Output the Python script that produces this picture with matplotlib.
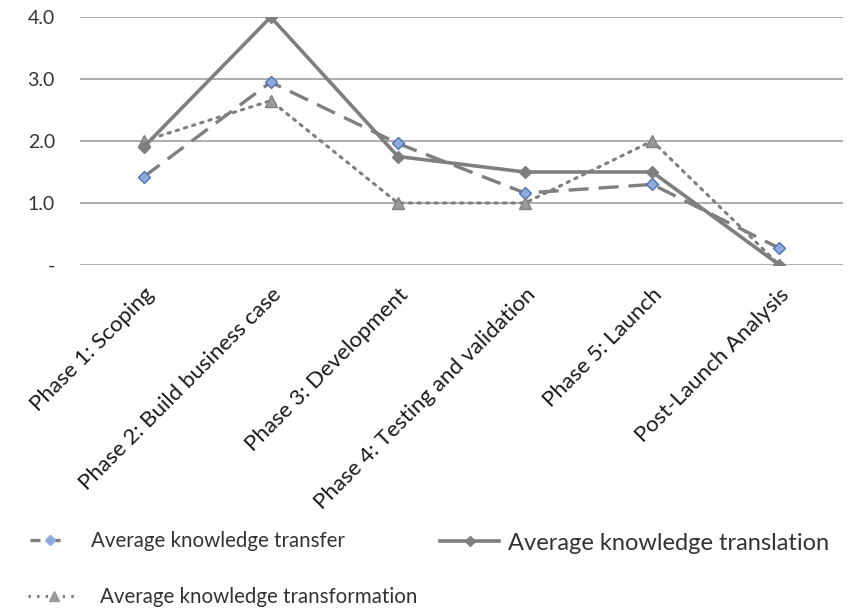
import matplotlib
matplotlib.use("Agg")
import matplotlib.pyplot as plt
from matplotlib.lines import Line2D

categories = ["Phase 1: Scoping", "Phase 2: Build business case", "Phase 3: Development",
              "Phase 4: Testing and validation", "Phase 5: Launch", "Post-Launch Analysis"]
transfer = [1.42, 2.95, 1.96, 1.16, 1.30, 0.27]
translation = [1.90, 4.00, 1.75, 1.50, 1.50, 0.00]
transformation = [2.00, 2.65, 1.00, 1.00, 2.00, 0.00]
yticks = [0, 1, 2, 3, 4]
yticklabels = ["-", "1.0", "2.0", "3.0", "4.0"]

plt.rcParams['font.family'] = ['Lato', 'DejaVu Sans']

fig = plt.figure(figsize=(8.5, 6.14), dpi=100)
ax = fig.add_axes([80/850, 1-265/614, (843-80)/850, (265-17)/614])

line_c = "#7f7f7f"
x = list(range(len(categories)))

ax.plot(x, transfer, color=line_c, lw=2.4, dashes=(6, 3), zorder=3,
        marker='D', ms=6, mfc="#8faadc", mec="#4f72b0", mew=1.0)
ax.plot(x, transformation, color=line_c, lw=2.2, linestyle=(0, (0.8, 2.0)), dash_capstyle='round', zorder=3,
        marker='^', ms=8.5, mfc="#9a9a9a", mec="#7f7f7f", mew=1.0)
ax.plot(x, translation, color=line_c, lw=2.6, zorder=4,
        marker='D', ms=6, mfc="#7f7f7f", mec="#7f7f7f")

ax.set_xlim(-0.5, len(categories) - 0.5)
ax.set_ylim(0, 4)
ax.set_yticks(yticks)
ax.set_yticklabels(yticklabels, fontsize=14, color="#333333")
ax.yaxis.grid(True, color="#a6a6a6", lw=1.3)
ax.set_axisbelow(True)
for s in ax.spines.values():
    s.set_visible(False)
ax.tick_params(axis='both', length=0)
ax.tick_params(axis='y', pad=18)
ax.set_xticks(x)
ax.set_xticklabels(categories, rotation=45, ha='right', rotation_mode='anchor',
                   fontsize=16, color="#1a1a1a")
ax.tick_params(axis='x', pad=14)

def entry(label, handle_kw, size, anchor, hl, pad):
    h = Line2D([], [], **handle_kw)
    leg = fig.legend([h], [label], loc='center left', bbox_to_anchor=anchor,
                     bbox_transform=fig.transFigure, frameon=False, fontsize=size,
                     handlelength=hl, handletextpad=pad, borderpad=0, borderaxespad=0)
    for t in leg.get_texts():
        t.set_color("#333333")
    return leg

entry("Average knowledge transfer",
      dict(color=line_c, lw=2.4, dashes=(3, 3), marker='D', ms=5, mfc="#8faadc", mec="#8faadc"),
      14.8, (30/850, 1-541/614), 1.95, 1.0)
entry("Average knowledge translation",
      dict(color=line_c, lw=2.6, marker='D', ms=5, mfc=line_c, mec=line_c),
      17, (440/850, 1-543/614), 2.5, 0.4)
entry("Average knowledge transformation",
      dict(color=line_c, lw=2.2, linestyle=(0, (0.8, 2.0)), marker='^', ms=7, mfc="#9a9a9a", mec="#9a9a9a"),
      14.8, (28/850, 1-597/614), 2.5, 1.0)

fig.savefig("out.png", dpi=100)
